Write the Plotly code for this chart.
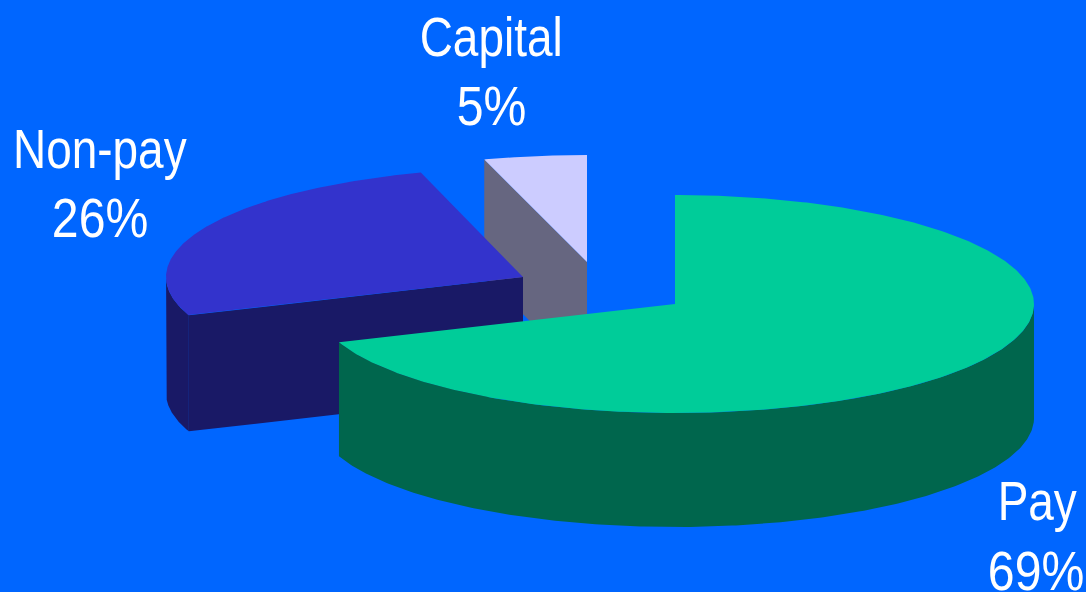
import numpy as np
import plotly.graph_objects as go

# Budget shares, clockwise from twelve o'clock
categories = ["Pay", "Non-pay", "Capital"]
shares = [69, 26, 5]

# Colours per slice: top face, side face
top_colors = ["#00CC99", "#3333CC", "#CCCCFF"]
side_colors = ["#00664D", "#191966", "#666680"]
background = "#0066FF"

# Projection of the tilted disc, in canvas units
apexes = [(675, 304), (523, 277), (587, 262)]
radii_x = [359, 357, 359]
radii_y = [109, 109, 107]
depths = [114, 116, 116]
ANGLE_SKEW = 1.004
FONT = "Liberation Sans, Arial, sans-serif"
FONT_SIZE = 56
NAME_CONDENSE = 0.82
PERCENT_CONDENSE = 0.86
# Label line centres: name line and percentage line
label_anchors = [((1037, 500), (1036, 570)), ((100, 148), (100, 217)), ((491, 36), (491, 105))]


def rim(apex, rx, ry, t_deg):
    """Rim points of a slice for clockwise angles measured from the top."""
    t = np.radians(np.minimum(np.asarray(t_deg, dtype=float) * ANGLE_SKEW, 360))
    return apex[0] + rx * np.sin(t), apex[1] - ry * np.cos(t)


def polygon(fig, xs, ys, color, name):
    fig.add_trace(go.Scatter(
        x=list(xs), y=list(ys), fill="toself", fillcolor=color, mode="lines",
        line=dict(width=0, color=color), hoverinfo="skip", showlegend=False, name=name,
    ))


fig = go.Figure()

# Slice boundaries in degrees
edges = np.cumsum([0] + shares) * 3.6

# Painter's order: the rearmost slice first
for i in reversed(range(len(shares))):
    start, end = edges[i], edges[i + 1]
    apex, rx_i, ry_i, depth = apexes[i], radii_x[i], radii_y[i], depths[i]
    name = categories[i]

    # Cut face along the slice's leading edge, visible when it looks toward the viewer
    if start > 180:
        ex, ey = rim(apex, rx_i, ry_i, start)
        xs = [ex, apex[0], apex[0], ex]
        ys = [ey, apex[1], apex[1] + depth, ey + depth]
        polygon(fig, xs, ys, side_colors[i], name + " cut")

    # Outer wall along the near half of the rim
    lo, hi = max(start, 90), min(end, 270)
    if hi > lo:
        t = np.linspace(lo, hi, 240)
        rx, ry = rim(apex, rx_i, ry_i, t)
        xs = np.concatenate([rx, rx[::-1]])
        ys = np.concatenate([ry, ry[::-1] + depth])
        polygon(fig, xs, ys, side_colors[i], name + " wall")

    # Top face
    t = np.linspace(start, end, 360)
    rx, ry = rim(apex, rx_i, ry_i, t)
    polygon(fig, np.r_[apex[0], rx, apex[0]], np.r_[apex[1], ry, apex[1]], top_colors[i], name)

# Two-line labels
annotations = []
for name, share, (name_pos, pct_pos) in zip(categories, shares, label_anchors):
    for text, (px, py) in ((name, name_pos), (f"{share}%", pct_pos)):
        annotations.append(dict(
            x=px, y=py, xref="x", yref="y", text=text, showarrow=False,
            xanchor="center", yanchor="middle",
            font=dict(family=FONT, size=FONT_SIZE, color="white"),
        ))

fig.update_layout(
    width=1086, height=592, margin=dict(l=0, r=0, t=0, b=0),
    paper_bgcolor=background, plot_bgcolor=background,
    annotations=annotations, showlegend=False,
    xaxis=dict(range=[0, 1086], visible=False, fixedrange=True),
    yaxis=dict(range=[592, 0], visible=False, fixedrange=True),
)

# Condense the label glyphs horizontally
condense_js = """
document.querySelectorAll('.annotation-text').forEach(function (t) {
  var k = t.textContent.endsWith('%%') ? %s : %s;
  t.setAttribute('textLength', t.getComputedTextLength() * k);
  t.setAttribute('lengthAdjust', 'spacingAndGlyphs');
});
""" % (PERCENT_CONDENSE, NAME_CONDENSE)

fig.write_html("out.html", config={"displayModeBar": False}, post_script=condense_js)
